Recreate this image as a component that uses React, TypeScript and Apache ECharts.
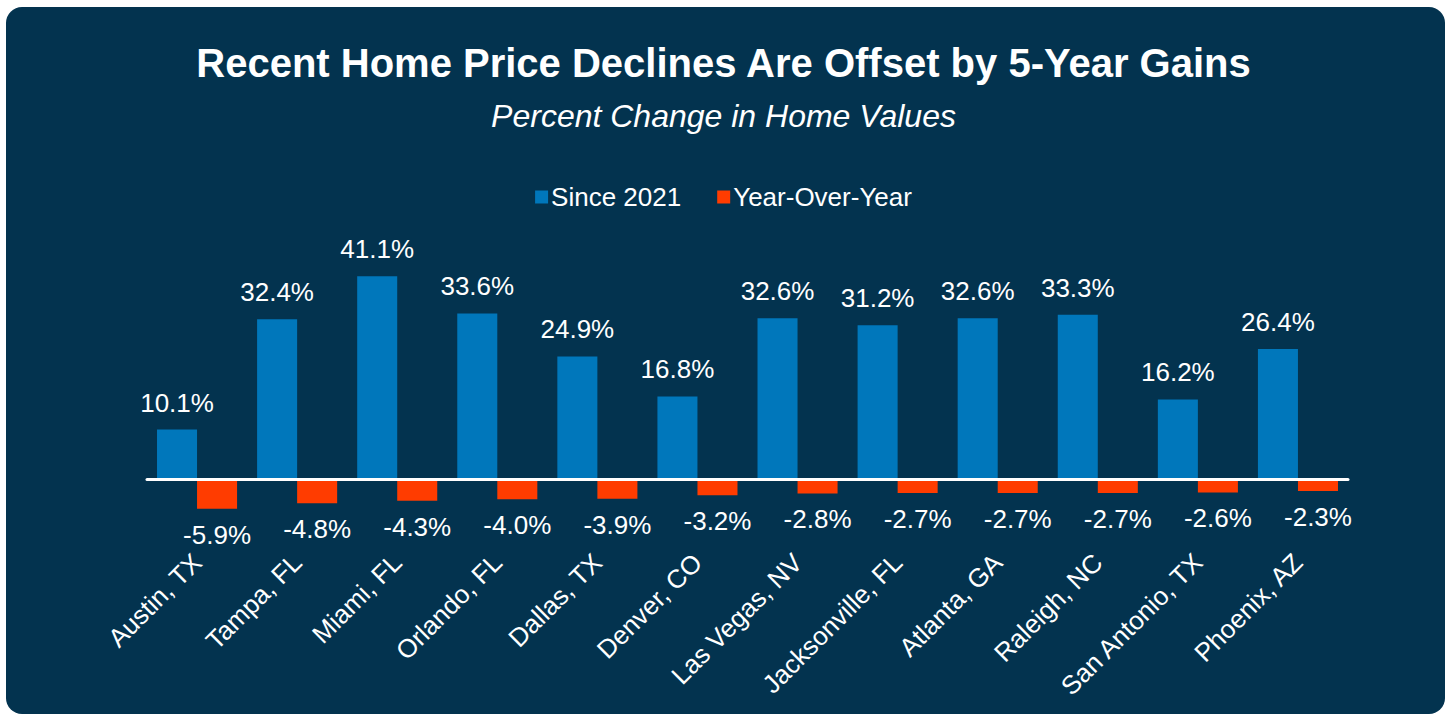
import React, { useEffect, useRef } from "react";
import * as echarts from "echarts";

const categories = [
  "Austin, TX",
  "Tampa, FL",
  "Miami, FL",
  "Orlando, FL",
  "Dallas, TX",
  "Denver, CO",
  "Las Vegas, NV",
  "Jacksonville, FL",
  "Atlanta, GA",
  "Raleigh, NC",
  "San Antonio, TX",
  "Phoenix, AZ",
];
const since2021 = [10.1, 32.4, 41.1, 33.6, 24.9, 16.8, 32.6, 31.2, 32.6, 33.3, 16.2, 26.4];
const yearOverYear = [-5.9, -4.8, -4.3, -4.0, -3.9, -3.2, -2.8, -2.7, -2.7, -2.7, -2.6, -2.3];

const FONT = "'Liberation Sans', Arial, Helvetica, sans-serif";
const BG = "#03334f";
const BLUE = "#0077bb";
const RED = "#ff3c00";

export default function App() {
  const ref = useRef<HTMLDivElement>(null);
  useEffect(() => {
    document.body.style.margin = "0";
    document.body.style.background = "#ffffff";
    const chart = echarts.init(ref.current!, undefined, { renderer: "svg" });
    chart.setOption({
      animation: false,
      backgroundColor: "#ffffff",
      textStyle: { fontFamily: FONT },
      graphic: [
        {
          type: "rect",
          z: -10,
          silent: true,
          shape: { x: 6, y: 7, width: 1439, height: 707, r: 16 },
          style: { fill: BG },
        },
      ],
      title: [
        {
          text: "Recent Home Price Declines Are Offset by 5-Year Gains",
          left: "center",
          top: 38,
          textStyle: { color: "#ffffff", fontSize: 40, fontWeight: "bold", fontFamily: FONT },
        },
        {
          text: "Percent Change in Home Values",
          left: "center",
          top: 95,
          textStyle: { color: "#ffffff", fontSize: 32, fontStyle: "italic", fontWeight: "normal", fontFamily: FONT },
        },
      ],
      legend: {
        top: 179,
        left: "center",
        itemWidth: 13,
        itemHeight: 13,
        itemGap: 36,
        icon: "rect",
        textStyle: { color: "#ffffff", fontSize: 26, fontFamily: FONT, padding: [0, 0, 0, -2] },
        data: ["Since 2021", "Year-Over-Year"],
      },
      grid: {
        left: 147,
        right: 99,
        top: 257,
        height: 272,
        containLabel: false,
        outerBoundsMode: "none",
      },
      xAxis: {
        type: "category",
        data: categories,
        axisLine: { show: true, onZero: true, lineStyle: { color: "#ffffff", width: 3 } },
        axisTick: { show: false },
        axisLabel: {
          rotate: 45,
          interval: 0,
          margin: 29,
          color: "#ffffff",
          fontSize: 26,
          fontFamily: FONT,
        },
        z: 10,
      },
      yAxis: {
        type: "value",
        min: -10,
        max: 45,
        show: false,
        splitLine: { show: false },
      },
      series: [
        {
          name: "Since 2021",
          type: "bar",
          data: since2021,
          itemStyle: { color: BLUE },
          barGap: "0%",
          barCategoryGap: "20%",
          label: {
            show: true,
            position: "top",
            distance: 14,
            color: "#ffffff",
            fontSize: 26,
            fontFamily: FONT,
            formatter: (p: any) => p.value.toFixed(1) + "%",
          },
        },
        {
          name: "Year-Over-Year",
          type: "bar",
          data: yearOverYear,
          itemStyle: { color: RED },
          barGap: "0%",
          barCategoryGap: "20%",
          label: {
            show: true,
            position: "bottom",
            distance: 13,
            color: "#ffffff",
            fontSize: 26,
            fontFamily: FONT,
            formatter: (p: any) => p.value.toFixed(1) + "%",
          },
        },
      ],
    });
    return () => chart.dispose();
  }, []);
  return <div ref={ref} style={{ width: 1447, height: 715 }} />;
}
